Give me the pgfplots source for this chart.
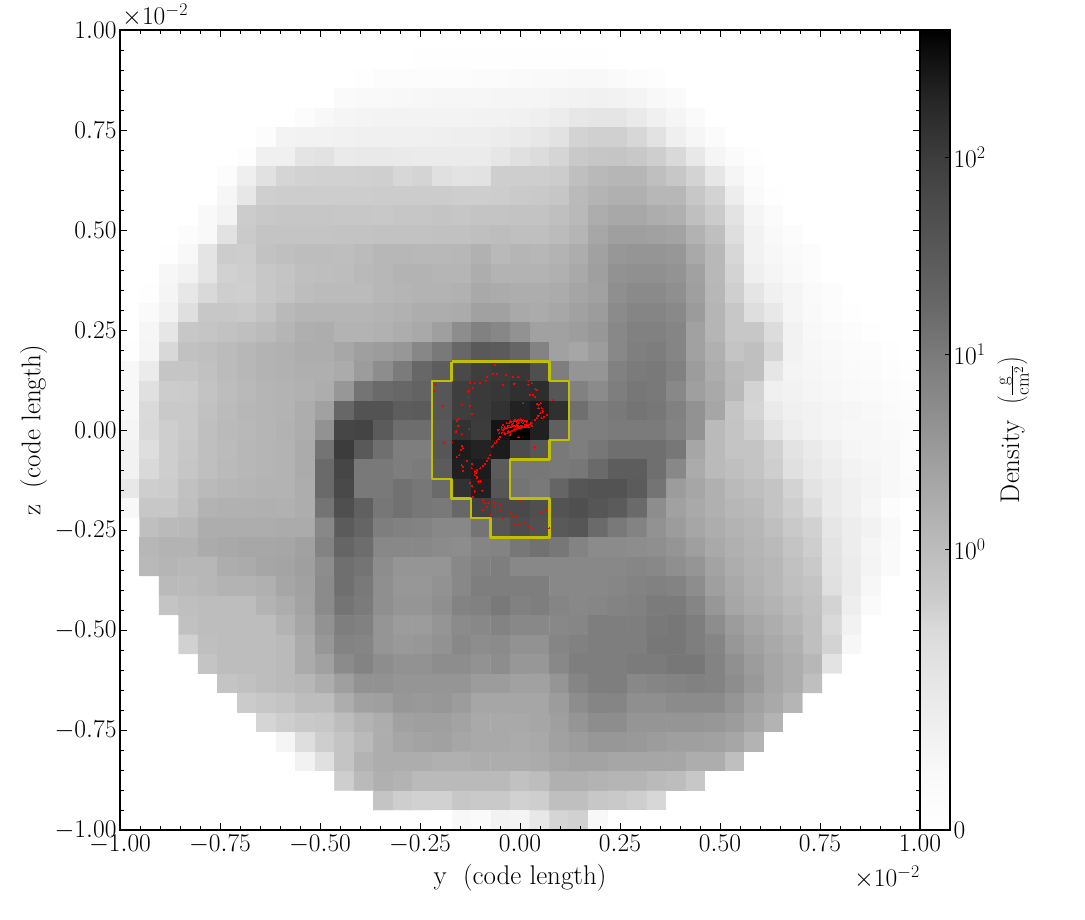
\RequirePackage{fix-cm}
\documentclass[border=0pt]{standalone}
\usepackage{pgfplots}
\pgfplotsset{compat=1.18}
\definecolor{ctr}{RGB}{192,192,0}
\newcommand{\lab}{\fontsize{25.5}{29}\selectfont}
\newcommand{\axlab}{\fontsize{27}{31}\selectfont}
\begin{document}
\begin{tikzpicture}
\path[use as bounding box] (-120pt,-90pt) rectangle (965pt,830pt);
\begin{axis}[
    name=main,
    at={(0pt,0pt)}, anchor=south west,
    scale only axis, width=800pt, height=800pt,
    xmin=-1, xmax=1, ymin=-1, ymax=1,
    xtick={-1,-0.75,-0.5,-0.25,0,0.25,0.5,0.75,1},
    ytick={-1,-0.75,-0.5,-0.25,0,0.25,0.5,0.75,1},
    minor tick num=4,
    tick align=inside, xtick pos=both, ytick pos=both,
    major tick length=7pt, minor tick length=4pt,
    every tick/.style={black,line width=0.9pt},
    axis line style={line width=1.1pt},
    scaled ticks=false,
    tick label style={font=\lab},
    xticklabel style={yshift=-2pt},
    xticklabel={\pgfmathprintnumber[fixed,fixed zerofill,precision=2]{\tick}},
    yticklabel={\pgfmathprintnumber[fixed,fixed zerofill,precision=2]{\tick}},
    xlabel={y\ \ (code length)}, ylabel={z\ \ (code length)},
    label style={font=\axlab},
    xlabel style={at={(axis description cs:0.5,-0.06)},anchor=center},
    ylabel style={at={(axis description cs:-0.108,0.5)},anchor=center},
    colormap={bw}{gray=(0) gray=(1)},
    point meta min=0, point meta max=255,
    axis on top,
]
% gray level of every cell, 41 x 41, top row first (255 = no data)
\addplot[matrix plot*, mesh/cols=41, point meta=explicit] table[
    row sep=\\, header=false, meta index=0,
    x expr={-1+(\coordindex-41*floor((\coordindex+0.5)/41)+0.5)*2/41},
    y expr={1-(floor((\coordindex+0.5)/41)+0.5)*2/41}] {
255\\255\\255\\255\\255\\255\\255\\255\\255\\255\\255\\255\\255\\255\\255\\255\\255\\255\\255\\255\\255\\255\\255\\255\\255\\255\\255\\255\\255\\255\\255\\255\\255\\255\\255\\255\\255\\255\\255\\255\\255\\
255\\255\\255\\255\\255\\255\\255\\255\\255\\255\\255\\255\\255\\253\\253\\252\\252\\252\\252\\252\\252\\252\\252\\252\\252\\253\\254\\255\\255\\255\\255\\255\\255\\255\\255\\255\\255\\255\\255\\255\\255\\
255\\255\\255\\255\\255\\255\\255\\255\\255\\255\\255\\255\\252\\250\\250\\250\\250\\250\\249\\249\\248\\247\\247\\246\\246\\248\\250\\251\\253\\255\\255\\255\\255\\255\\255\\255\\255\\255\\255\\255\\255\\
255\\255\\255\\255\\255\\255\\255\\255\\255\\255\\253\\248\\247\\247\\246\\245\\244\\244\\244\\243\\243\\243\\241\\240\\239\\240\\242\\246\\248\\253\\255\\255\\255\\255\\255\\255\\255\\255\\255\\255\\255\\
255\\255\\255\\255\\255\\255\\255\\255\\253\\250\\246\\243\\242\\241\\241\\241\\241\\241\\240\\240\\239\\237\\234\\229\\227\\227\\232\\238\\243\\248\\253\\255\\255\\255\\255\\255\\255\\255\\255\\255\\255\\
255\\255\\255\\255\\255\\255\\255\\250\\241\\240\\240\\239\\238\\238\\238\\238\\237\\236\\236\\234\\232\\229\\224\\210\\207\\207\\213\\224\\237\\244\\249\\253\\255\\255\\255\\255\\255\\255\\255\\255\\255\\
255\\255\\255\\255\\255\\255\\251\\238\\238\\226\\224\\232\\231\\231\\232\\233\\233\\233\\233\\228\\222\\218\\212\\200\\197\\196\\199\\205\\215\\230\\243\\248\\252\\255\\255\\255\\255\\255\\255\\255\\255\\
255\\255\\255\\255\\255\\250\\237\\223\\212\\209\\208\\208\\207\\206\\213\\211\\222\\225\\224\\205\\205\\205\\203\\190\\184\\181\\181\\190\\198\\210\\228\\243\\250\\254\\255\\255\\255\\255\\255\\255\\255\\
255\\255\\255\\255\\255\\244\\229\\206\\204\\204\\204\\204\\204\\203\\203\\203\\203\\205\\205\\204\\201\\200\\197\\185\\179\\175\\175\\182\\182\\198\\210\\235\\248\\252\\255\\255\\255\\255\\255\\255\\255\\
255\\255\\255\\253\\247\\241\\203\\199\\197\\197\\197\\198\\198\\199\\197\\197\\195\\197\\195\\195\\194\\194\\190\\184\\172\\167\\167\\172\\175\\190\\202\\225\\243\\249\\253\\255\\255\\255\\255\\255\\255\\
255\\255\\255\\250\\247\\224\\201\\195\\195\\195\\195\\194\\194\\193\\193\\193\\192\\192\\190\\188\\190\\190\\186\\180\\166\\158\\158\\160\\162\\177\\190\\220\\240\\247\\250\\253\\255\\255\\255\\255\\255\\
255\\255\\252\\246\\226\\203\\204\\193\\190\\188\\188\\189\\186\\182\\182\\183\\183\\182\\176\\184\\180\\182\\178\\172\\160\\150\\148\\148\\150\\168\\183\\213\\240\\245\\248\\250\\254\\255\\255\\255\\255\\
255\\255\\245\\240\\226\\208\\205\\198\\195\\190\\189\\188\\184\\182\\178\\178\\180\\180\\172\\178\\178\\178\\175\\168\\158\\145\\143\\143\\146\\160\\183\\210\\237\\243\\247\\250\\254\\255\\255\\255\\255\\
255\\252\\243\\229\\215\\205\\206\\198\\194\\188\\186\\186\\186\\182\\180\\178\\178\\176\\168\\170\\172\\172\\170\\164\\160\\142\\137\\137\\142\\158\\182\\206\\227\\238\\243\\248\\250\\253\\255\\255\\255\\
255\\248\\240\\221\\198\\198\\200\\194\\184\\180\\180\\180\\180\\178\\176\\172\\172\\170\\160\\160\\168\\170\\166\\160\\155\\138\\132\\132\\136\\154\\180\\198\\220\\230\\243\\247\\250\\252\\253\\254\\255\\
255\\244\\228\\198\\196\\193\\190\\186\\180\\174\\172\\178\\178\\176\\172\\168\\158\\140\\128\\134\\145\\160\\160\\156\\150\\135\\128\\128\\132\\160\\180\\198\\198\\218\\240\\246\\248\\250\\252\\253\\254\\
252\\243\\214\\192\\190\\186\\182\\178\\176\\172\\172\\166\\158\\155\\150\\134\\120\\102\\88\\90\\100\\130\\160\\165\\155\\135\\126\\124\\132\\160\\175\\195\\190\\212\\240\\245\\247\\249\\250\\252\\253\\
246\\233\\196\\196\\192\\186\\182\\178\\176\\174\\174\\170\\155\\140\\122\\102\\92\\72\\62\\58\\55\\78\\125\\148\\148\\128\\122\\120\\128\\155\\172\\186\\190\\228\\242\\244\\246\\248\\249\\251\\252\\
246\\222\\203\\202\\194\\188\\184\\180\\178\\176\\172\\150\\115\\105\\102\\98\\85\\62\\58\\55\\48\\45\\85\\128\\138\\125\\118\\120\\135\\158\\168\\184\\210\\238\\240\\243\\245\\247\\248\\250\\251\\
246\\216\\200\\200\\192\\186\\182\\180\\178\\172\\160\\102\\82\\82\\92\\90\\85\\62\\58\\50\\34\\26\\48\\110\\125\\120\\115\\118\\128\\145\\165\\196\\212\\232\\238\\240\\243\\244\\246\\248\\250\\
243\\215\\205\\200\\190\\185\\183\\180\\177\\172\\145\\70\\68\\90\\108\\108\\88\\50\\60\\20\\0\\32\\95\\125\\125\\122\\122\\122\\130\\145\\185\\195\\205\\225\\235\\240\\243\\245\\245\\247\\249\\
240\\220\\205\\198\\190\\186\\182\\180\\178\\170\\115\\60\\88\\110\\125\\125\\85\\28\\35\\28\\75\\85\\120\\125\\118\\110\\110\\110\\118\\165\\185\\195\\195\\208\\225\\232\\238\\243\\245\\246\\250\\
240\\215\\205\\197\\190\\185\\182\\180\\178\\170\\105\\70\\120\\120\\125\\122\\90\\32\\28\\90\\118\\118\\120\\118\\105\\92\\92\\110\\135\\170\\185\\190\\195\\205\\222\\230\\235\\240\\243\\246\\250\\
230\\205\\203\\192\\185\\182\\180\\178\\178\\172\\105\\72\\120\\120\\112\\118\\105\\50\\32\\85\\115\\120\\100\\85\\82\\82\\90\\115\\155\\165\\175\\185\\190\\195\\210\\225\\232\\238\\242\\246\\249\\
246\\198\\198\\190\\178\\176\\176\\175\\176\\172\\115\\78\\95\\118\\112\\118\\120\\102\\65\\72\\72\\78\\82\\78\\85\\90\\105\\140\\160\\168\\175\\182\\185\\195\\205\\218\\232\\238\\244\\250\\254\\
255\\190\\185\\183\\172\\172\\172\\172\\170\\170\\135\\90\\100\\125\\128\\130\\135\\135\\115\\85\\75\\80\\88\\85\\105\\120\\130\\145\\155\\165\\172\\178\\182\\190\\200\\208\\228\\235\\240\\247\\255\\
255\\182\\178\\178\\170\\168\\166\\166\\165\\160\\130\\100\\108\\135\\135\\135\\138\\140\\132\\130\\118\\112\\118\\130\\138\\138\\140\\142\\148\\158\\168\\175\\180\\185\\195\\205\\225\\235\\243\\248\\255\\
255\\184\\180\\182\\182\\172\\170\\165\\163\\158\\140\\110\\115\\140\\148\\148\\148\\135\\128\\125\\135\\135\\135\\135\\135\\135\\133\\135\\142\\148\\162\\172\\178\\182\\192\\200\\224\\233\\242\\248\\255\\
255\\255\\185\\185\\182\\178\\178\\175\\165\\160\\138\\110\\120\\142\\150\\150\\145\\135\\125\\125\\125\\125\\135\\135\\135\\133\\130\\128\\130\\140\\158\\168\\176\\182\\190\\195\\222\\233\\245\\255\\255\\
255\\255\\195\\190\\188\\188\\188\\178\\172\\162\\138\\115\\122\\142\\148\\148\\142\\130\\128\\120\\128\\125\\132\\135\\133\\130\\128\\122\\122\\132\\150\\165\\172\\178\\185\\192\\210\\236\\248\\255\\255\\
255\\255\\255\\192\\188\\188\\188\\188\\178\\165\\145\\125\\128\\148\\155\\155\\148\\138\\135\\130\\135\\135\\135\\133\\125\\125\\125\\120\\118\\125\\140\\155\\165\\172\\180\\190\\215\\240\\255\\255\\255\\
255\\255\\255\\208\\190\\188\\188\\188\\185\\170\\150\\130\\132\\148\\152\\150\\145\\135\\140\\138\\145\\145\\132\\128\\125\\125\\125\\118\\118\\125\\132\\150\\160\\168\\175\\190\\210\\245\\255\\255\\255\\
255\\255\\255\\255\\195\\188\\188\\188\\185\\170\\160\\138\\130\\140\\145\\145\\140\\140\\145\\140\\150\\150\\135\\125\\125\\125\\122\\122\\118\\118\\130\\143\\155\\165\\172\\182\\225\\255\\255\\255\\255\\
255\\255\\255\\255\\255\\195\\192\\188\\185\\182\\172\\158\\145\\145\\148\\148\\148\\148\\155\\155\\160\\160\\148\\132\\125\\125\\135\\132\\130\\128\\130\\140\\152\\165\\172\\190\\255\\255\\255\\255\\255\\
255\\255\\255\\255\\255\\255\\202\\198\\195\\188\\188\\172\\160\\158\\150\\152\\150\\155\\165\\165\\165\\165\\155\\140\\132\\132\\142\\142\\138\\138\\138\\148\\160\\168\\180\\255\\255\\255\\255\\255\\255\\
255\\255\\255\\255\\255\\255\\255\\212\\205\\200\\198\\188\\178\\172\\160\\158\\158\\162\\168\\168\\168\\165\\158\\148\\140\\140\\148\\148\\148\\148\\150\\155\\165\\178\\255\\255\\255\\255\\255\\255\\255\\
255\\255\\255\\255\\255\\255\\255\\255\\243\\220\\205\\195\\185\\172\\165\\162\\160\\165\\168\\168\\170\\168\\160\\155\\150\\150\\152\\155\\158\\158\\160\\165\\178\\255\\255\\255\\255\\255\\255\\255\\255\\
255\\255\\255\\255\\255\\255\\255\\255\\255\\240\\222\\195\\178\\172\\172\\172\\175\\175\\172\\172\\172\\170\\165\\162\\162\\165\\165\\165\\165\\172\\172\\190\\255\\255\\255\\255\\255\\255\\255\\255\\255\\
255\\255\\255\\255\\255\\255\\255\\255\\255\\255\\255\\205\\185\\175\\178\\185\\185\\185\\185\\185\\192\\188\\175\\175\\178\\180\\180\\185\\188\\198\\255\\255\\255\\255\\255\\255\\255\\255\\255\\255\\255\\
255\\255\\255\\255\\255\\255\\255\\255\\255\\255\\255\\255\\255\\195\\205\\208\\208\\198\\200\\200\\208\\205\\190\\190\\198\\200\\205\\213\\255\\255\\255\\255\\255\\255\\255\\255\\255\\255\\255\\255\\255\\
255\\255\\255\\255\\255\\255\\255\\255\\255\\255\\255\\255\\255\\255\\255\\255\\253\\246\\248\\240\\242\\230\\212\\208\\246\\255\\255\\255\\255\\255\\255\\255\\255\\255\\255\\255\\255\\255\\255\\255\\255\\
};
% contour round the clump
\addplot[ctr, line width=2.5pt, line join=round] coordinates {
    (-0.1707,0.1707) (0.0732,0.1707) (0.0732,0.1220) (0.1220,0.1220)
    (0.1220,-0.0244) (0.0732,-0.0244) (0.0732,-0.0732) (-0.0244,-0.0732)
    (-0.0244,-0.1707) (0.0732,-0.1707) (0.0732,-0.2683) (-0.0732,-0.2683)
    (-0.0732,-0.2195) (-0.1220,-0.2195) (-0.1220,-0.1707) (-0.1707,-0.1707)
    (-0.1707,-0.1220) (-0.2195,-0.1220) (-0.2195,0.1220) (-0.1707,0.1220)
    (-0.1707,0.1707)
};
% particles
\addplot[only marks, red, mark=*, mark size=0.6pt, line width=0pt, point meta=none, mark options={draw=red,fill=red}] table[row sep=\\] {
x y\\
-0.063 0.163\\ -0.083 0.133\\ -0.086 0.123\\ -0.067 0.140\\ -0.057 0.140\\ -0.035 0.138\\ -0.017 0.133\\ -0.004 0.132\\
0.021 0.123\\ -0.125 0.118\\ -0.113 0.117\\ -0.100 0.118\\ -0.118 0.104\\ -0.129 0.096\\ -0.131 0.082\\ -0.042 0.113\\
-0.014 0.115\\ 0.021 0.113\\ 0.029 0.117\\ 0.038 0.102\\ 0.043 0.100\\ 0.033 0.088\\ 0.025 0.088\\ 0.038 0.083\\
0.082 0.075\\ -0.193 0.060\\ -0.146 0.063\\ -0.125 0.060\\ -0.213 0.113\\ -0.215 0.098\\ -0.121 0.040\\ 0.008 0.067\\
0.042 0.065\\ 0.046 0.063\\ 0.052 0.067\\ 0.054 0.054\\ 0.046 0.054\\ 0.057 0.046\\ 0.050 0.042\\ 0.060 0.033\\
0.067 0.038\\ 0.054 0.029\\ 0.042 0.029\\ 0.046 0.035\\ 0.038 0.025\\ 0.029 0.017\\
-0.154 0.027\\ -0.157 0.023\\ -0.154 0.010\\ -0.127 0.002\\ -0.146 -0.011\\ -0.160 -0.004\\ -0.190 -0.032\\ -0.171 -0.032\\
-0.146 -0.040\\ -0.148 -0.050\\ -0.143 -0.046\\ -0.152 -0.063\\ -0.158 -0.068\\ -0.146 -0.088\\ -0.143 -0.092\\ -0.142 -0.102\\
-0.121 -0.085\\ -0.121 -0.096\\ -0.133 -0.077\\
-0.071 -0.042\\ -0.067 -0.038\\ -0.063 -0.033\\ -0.058 -0.029\\ -0.054 -0.023\\ -0.050 -0.017\\ -0.052 -0.008\\ -0.054 0\\
-0.046 0.007\\ -0.042 0.013\\ -0.033 0.017\\ -0.025 0.021\\ -0.013 0.025\\ 0 0.027\\ -0.008 0.013\\ -0.017 0.010\\
-0.025 0.007\\ -0.033 0.004\\ -0.042 0\\ -0.046 -0.007\\ -0.038 -0.008\\ -0.029 -0.004\\ -0.021 -0.002\\ -0.013 0.002\\
-0.004 0.007\\ 0.004 0.010\\ 0.013 0.013\\ 0.021 0.007\\ 0.029 0.010\\ 0.017 0.021\\ 0.008 0.017\\ 0 0.004\\
-0.025 -0.013\\ -0.004 -0.018\\ 0.036 -0.044\\ -0.021 0.013\\ -0.004 0.017\\ 0.004 0.021\\ -0.008 0.021\\ -0.017 0.017\\
-0.029 0.010\\ -0.038 0.007\\ 0.008 0.007\\ 0.017 0.013\\ -0.013 0.010\\
-0.027 0.017\\ -0.022 0.019\\ -0.017 0.021\\ -0.012 0.023\\ -0.007 0.024\\ -0.002 0.025\\ 0.003 0.024\\ 0.008 0.024\\ 0.013 0.023\\ 0.017 0.023\\
-0.046 0.002\\ -0.040 0.003\\ -0.034 0.005\\ -0.028 0.007\\ -0.023 0.008\\ -0.017 0.009\\ -0.011 0.010\\ -0.005 0.010\\ 0.001 0.009\\ 0.007 0.008\\ 0.013 0.008\\ 0.018 0.008\\
-0.038 -0.010\\ -0.032 -0.008\\ -0.026 -0.005\\ -0.020 -0.003\\ -0.014 0\\ -0.008 0.002\\ -0.003 0.004\\ 0.003 0.006\\ 0.009 0.008\\ 0.015 0.011\\ 0.021 0.013\\ 0.027 0.016\\
-0.075 -0.063\\ -0.079 -0.071\\ -0.083 -0.077\\ -0.088 -0.085\\ -0.092 -0.090\\ -0.100 -0.096\\ -0.107 -0.100\\ -0.113 -0.104\\
-0.113 -0.113\\ -0.108 -0.121\\ -0.104 -0.129\\ -0.110 -0.108\\ -0.107 -0.117\\ -0.098 -0.129\\ -0.125 -0.132\\ -0.121 -0.140\\
-0.113 -0.154\\ -0.094 -0.152\\ -0.117 -0.167\\
-0.092 -0.175\\ -0.088 -0.183\\ -0.079 -0.183\\ -0.083 -0.192\\ -0.092 -0.200\\ -0.065 -0.182\\ -0.050 -0.185\\ -0.050 -0.200\\
-0.063 -0.192\\ -0.073 -0.213\\ 0 -0.177\\ -0.023 -0.208\\ -0.018 -0.215\\ -0.007 -0.217\\ -0.043 -0.221\\ -0.013 -0.235\\
-0.004 -0.238\\ 0.010 -0.233\\ 0.029 -0.246\\ 0.021 -0.242\\ 0.052 -0.206\\ 0.065 -0.200\\ 0.073 -0.246\\
};
\end{axis}
\node[anchor=south west,font=\lab,inner sep=0pt] at (2pt,803pt) {$\times 10^{-2}$};
\node[anchor=north east,font=\lab,inner sep=0pt] at (800pt,-36pt) {$\times 10^{-2}$};
% colour bar: position along the bar against gray level
\begin{axis}[
    at={(800pt,0pt)}, anchor=south west,
    scale only axis, width=30pt, height=800pt,
    xmin=0, xmax=1, ymin=0, ymax=800,
    xtick=\empty,
    ytick={0,281,476,673},
    yticklabels={$0$,$10^{0}$,$10^{1}$,$10^{2}$},
    tick align=inside, ytick pos=right,
    major tick length=5pt,
    every tick/.style={black,line width=0.9pt},
    axis line style={line width=1.1pt},
    tick label style={font=\lab},
    ylabel={Density\ \ $\left(\frac{\mathrm{g}}{\mathrm{cm}^{2}}\right)$},
    ylabel style={font=\axlab,at={(axis description cs:3.1,0.5)},anchor=center},
    colormap={bw}{gray=(0) gray=(1)},
    point meta min=0, point meta max=255,
    axis on top,
]
\addplot[surf, shader=interp, mesh/cols=2, point meta=explicit] table[row sep=\\, x=x, y=y, meta=g] {
x y g\\
0 0 255\\ 1 0 255\\ 0 50 250\\ 1 50 250\\ 0 100 240\\ 1 100 240\\ 0 150 230\\ 1 150 230\\
0 200 218\\ 1 200 218\\ 0 230 204\\ 1 230 204\\ 0 281 188\\ 1 281 188\\ 0 350 165\\ 1 350 165\\
0 400 148\\ 1 400 148\\ 0 476 122\\ 1 476 122\\ 0 530 102\\ 1 530 102\\ 0 580 88\\ 1 580 88\\
0 630 74\\ 1 630 74\\ 0 673 60\\ 1 673 60\\ 0 730 38\\ 1 730 38\\ 0 780 12\\ 1 780 12\\
0 800 0\\ 1 800 0\\
};
\end{axis}
\end{tikzpicture}
\end{document}
